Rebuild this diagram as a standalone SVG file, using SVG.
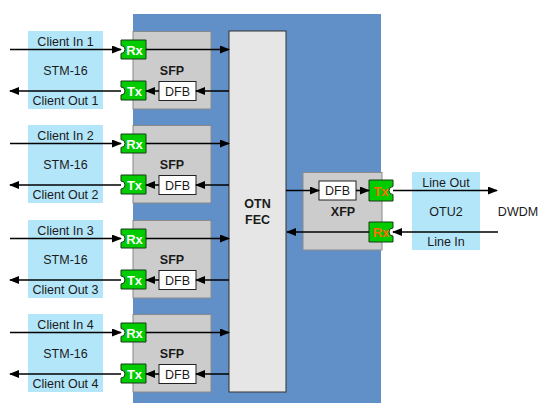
<svg xmlns="http://www.w3.org/2000/svg" width="540" height="403" viewBox="0 0 540 403">
<style>
text{font-family:"Liberation Sans",Arial,sans-serif;font-size:12.5px;fill:#1a1a1a;text-anchor:middle}
.b{font-weight:bold;font-size:12.5px}
.lb{fill:#b4e6fa}
.sfp{fill:#cccccc;stroke:#8a8a8a;stroke-width:1}
.grn{fill:#00cc00;stroke:#1a3a1a;stroke-width:1}
.dfb{fill:#ffffff;stroke:#222;stroke-width:1}
.w{fill:#ffffff;font-weight:bold;font-size:13px}
.o{fill:#ff6a00;font-weight:bold;font-size:13px}
.c line{stroke:#000;stroke-width:1.6;marker-end:url(#ah)}
</style>
<defs>
<marker id="ah" markerWidth="10" markerHeight="8" refX="9" refY="4" orient="auto" markerUnits="userSpaceOnUse">
<path d="M0,0 L10,4 L0,8 Z" fill="#000"/>
</marker>
</defs>
<rect x="0" y="0" width="540" height="403" fill="#ffffff"/>
<rect id="chassis" x="133" y="14" width="248" height="389" fill="#6190c8"/>

<g id="otn">
<rect x="229" y="31" width="57" height="361" fill="#e6e6e6" stroke="#333" stroke-width="1"/>
<text class="b" x="257.5" y="208">OTN</text>
<text class="b" x="257.5" y="224">FEC</text>
</g>

<g id="client1">
<rect class="lb" x="28" y="31" width="75" height="78"/>
<text x="65.5" y="46">Client In 1</text>
<text x="65.5" y="75">STM-16</text>
<text x="65.5" y="105">Client Out 1</text>
</g>
<g id="sfp1">
<rect class="sfp" x="133" y="31.5" width="78" height="77.5"/>
<text class="b" x="172" y="75">SFP</text>
<path class="grn" d="M121,40 H146 V59 H121 V53.5 A4,4 0 0 0 121,45.5 Z"/>
<text class="w" x="134.5" y="54.5">Rx</text>
<path class="grn" d="M121,81 H146 V100 H121 V95 A4,4 0 0 0 121,87 Z"/>
<text class="w" x="134.5" y="95.5">Tx</text>
<rect class="dfb" x="159" y="81.5" width="37" height="19"/>
<text x="177.5" y="95.5">DFB</text>
</g>

<g id="client2">
<rect class="lb" x="28" y="125" width="75" height="78"/>
<text x="65.5" y="140">Client In 2</text>
<text x="65.5" y="169">STM-16</text>
<text x="65.5" y="199">Client Out 2</text>
</g>
<g id="sfp2">
<rect class="sfp" x="133" y="125.5" width="78" height="77.5"/>
<text class="b" x="172" y="169">SFP</text>
<path class="grn" d="M121,134 H146 V153 H121 V147.5 A4,4 0 0 0 121,139.5 Z"/>
<text class="w" x="134.5" y="148.5">Rx</text>
<path class="grn" d="M121,175 H146 V194 H121 V189 A4,4 0 0 0 121,181 Z"/>
<text class="w" x="134.5" y="189.5">Tx</text>
<rect class="dfb" x="159" y="175.5" width="37" height="19"/>
<text x="177.5" y="189.5">DFB</text>
</g>

<g id="client3">
<rect class="lb" x="28" y="220" width="75" height="78"/>
<text x="65.5" y="235">Client In 3</text>
<text x="65.5" y="264">STM-16</text>
<text x="65.5" y="294">Client Out 3</text>
</g>
<g id="sfp3">
<rect class="sfp" x="133" y="220.5" width="78" height="77.5"/>
<text class="b" x="172" y="264">SFP</text>
<path class="grn" d="M121,229 H146 V248 H121 V242.5 A4,4 0 0 0 121,234.5 Z"/>
<text class="w" x="134.5" y="243.5">Rx</text>
<path class="grn" d="M121,270 H146 V289 H121 V284 A4,4 0 0 0 121,276 Z"/>
<text class="w" x="134.5" y="284.5">Tx</text>
<rect class="dfb" x="159" y="270.5" width="37" height="19"/>
<text x="177.5" y="284.5">DFB</text>
</g>

<g id="client4">
<rect class="lb" x="28" y="314" width="75" height="78"/>
<text x="65.5" y="329">Client In 4</text>
<text x="65.5" y="358">STM-16</text>
<text x="65.5" y="388">Client Out 4</text>
</g>
<g id="sfp4">
<rect class="sfp" x="133" y="314.5" width="78" height="77.5"/>
<text class="b" x="172" y="358">SFP</text>
<path class="grn" d="M121,323 H146 V342 H121 V336.5 A4,4 0 0 0 121,328.5 Z"/>
<text class="w" x="134.5" y="337.5">Rx</text>
<path class="grn" d="M121,364 H146 V383 H121 V378 A4,4 0 0 0 121,370 Z"/>
<text class="w" x="134.5" y="378.5">Tx</text>
<rect class="dfb" x="159" y="364.5" width="37" height="19"/>
<text x="177.5" y="378.5">DFB</text>
</g>

<g id="xfp">
<rect class="sfp" x="303" y="172.5" width="79" height="77.5"/>
<text class="b" x="343" y="216">XFP</text>
<rect class="dfb" x="319" y="181" width="37" height="19"/>
<text x="337.5" y="195">DFB</text>
<path class="grn" d="M369,180 H393 V186.5 A4,4 0 0 0 393,194.5 V201 H369 Z"/>
<text class="o" x="381" y="195.5">Tx</text>
<path class="grn" d="M369,222 H393 V228 A4,4 0 0 0 393,236 V242 H369 Z"/>
<text class="o" x="381" y="237">Rx</text>
</g>

<g id="line">
<rect class="lb" x="412" y="172" width="68" height="78"/>
<text x="446" y="187">Line Out</text>
<text x="446" y="216">OTU2</text>
<text x="446" y="246">Line In</text>
</g>
<text id="dwdm" x="518" y="216">DWDM</text>

<g class="c" id="connectors">
<line x1="10" y1="49.5" x2="121" y2="49.5"/>
<line x1="146" y1="49.5" x2="229" y2="49.5"/>
<line x1="229" y1="91" x2="196" y2="91"/>
<line x1="159" y1="91" x2="146" y2="91"/>
<line x1="121" y1="91" x2="10" y2="91"/>

<line x1="10" y1="143.5" x2="121" y2="143.5"/>
<line x1="146" y1="143.5" x2="229" y2="143.5"/>
<line x1="229" y1="185" x2="196" y2="185"/>
<line x1="159" y1="185" x2="146" y2="185"/>
<line x1="121" y1="185" x2="10" y2="185"/>

<line x1="10" y1="238.5" x2="121" y2="238.5"/>
<line x1="146" y1="238.5" x2="229" y2="238.5"/>
<line x1="229" y1="280" x2="196" y2="280"/>
<line x1="159" y1="280" x2="146" y2="280"/>
<line x1="121" y1="280" x2="10" y2="280"/>

<line x1="10" y1="332.5" x2="121" y2="332.5"/>
<line x1="146" y1="332.5" x2="229" y2="332.5"/>
<line x1="229" y1="374" x2="196" y2="374"/>
<line x1="159" y1="374" x2="146" y2="374"/>
<line x1="121" y1="374" x2="10" y2="374"/>

<line x1="286" y1="190.5" x2="319" y2="190.5"/>
<line x1="356" y1="190.5" x2="369" y2="190.5"/>
<line x1="393" y1="190.5" x2="497" y2="190.5"/>
<line x1="498" y1="232" x2="393" y2="232"/>
<line x1="369" y1="232" x2="287" y2="232"/>
</g>
</svg>
